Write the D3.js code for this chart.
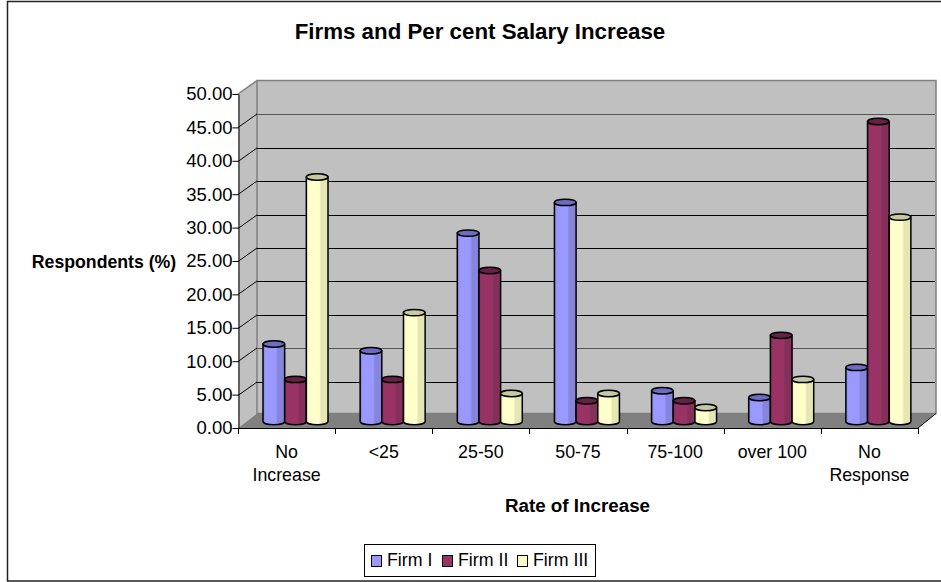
<!DOCTYPE html>
<html><head><meta charset="utf-8">
<script src="https://cdn.jsdelivr.net/npm/d3@7"></script>
<style>html,body{margin:0;padding:0;background:#fff}svg{display:block}text{font-family:"Liberation Sans",Arial,sans-serif;fill:#000}</style>
</head><body><svg id="c" width="941" height="582"></svg>
<script>
const categories=[["No","Increase"],["<25"],["25-50"],["50-75"],["75-100"],["over 100"],["No","Response"]];
const seriesNames=["Firm I","Firm II","Firm III"];
const firm1=[11.6,10.6,28.2,32.8,4.6,3.6,8.1];
const firm2=[6.3,6.3,22.6,3.1,3.1,12.9,44.9];
const firm3=[36.6,16.3,4.2,4.2,2.1,6.3,30.6];
const tickValues=d3.range(0,51,5);
const fills=[["#9999ff","#8585dc","#6c6cc0"],["#993366","#84305a","#662244"],["#ffffcc","#e6e6b4","#c9c9a0"]];

const svg=d3.select("#c");
const pL=238,pR=918,pT=94,pB=428,dx=19,dy=-13.5,floorDy=-14.5;
const x=d3.scaleBand().domain(d3.range(7)).range([pL,pR]);
const y=d3.scaleLinear().domain([0,50]).range([pB,pT]);
const inner=d3.scaleBand().domain([0,1,2]).range([25,90]);
const defs=svg.append("defs");
fills.forEach((f,i)=>{
  const g=defs.append("linearGradient").attr("id","g"+i);
  [[0,f[1]],[.12,f[0]],[.6,f[0]],[.68,f[1]],[1,f[1]]].forEach(s=>g.append("stop").attr("offset",s[0]).attr("stop-color",s[1]));
});
// frame
svg.append("path").attr("d","M941,1.5H7.5V581H941").attr("fill","none").attr("stroke","#222").attr("stroke-width",1.5);
// walls
const poly=p=>p.map(q=>q.join(",")).join(" ");
svg.append("polygon").attr("points",poly([[pL,pB],[pL+dx,pB+floorDy],[pL+dx,pT+dy],[pL,pT]])).attr("fill","#c0c0c0");
svg.append("polygon").attr("points",poly([[pL+dx,pB+floorDy],[pR+dx-1,pB+floorDy],[pR+dx-1,pT+dy],[pL+dx,pT+dy]])).attr("fill","#c0c0c0").attr("stroke","#808080").attr("stroke-width",1.5);
svg.append("polygon").attr("points",poly([[pL,pB],[pR,pB],[pR+dx-1,pB+floorDy],[pL+dx,pB+floorDy]])).attr("fill","#808080");
svg.append("line").attr("x1",pL).attr("y1",pT).attr("x2",pL+dx).attr("y2",pT+dy).attr("stroke","#808080").attr("stroke-width",1.5);
svg.append("line").attr("x1",pR).attr("y1",pB).attr("x2",pR+dx-1).attr("y2",pB+floorDy).attr("stroke","#000");
// grid
tickValues.slice(1,-1).forEach(t=>{
  const v=Math.round(y(t))+.5;
  svg.append("line").attr("x1",pL).attr("y1",v).attr("x2",pL+dx).attr("y2",v+dy).attr("stroke","#000");
  svg.append("line").attr("x1",pL+dx).attr("y1",Math.round(v+dy)+.5).attr("x2",pR+dx-2).attr("y2",Math.round(v+dy)+.5).attr("stroke",t==45||t==10?"#555":"#000").attr("stroke-width",1);
});
// axes
const yAxis=d3.axisLeft(y).tickValues(tickValues).tickSize(6).tickSizeOuter(0).tickFormat(d3.format(".2f"));
const ga=svg.append("g").attr("transform",`translate(${pL+.5},0)`).call(yAxis);
ga.selectAll("text").attr("font-size",18.5).attr("x",-6).style("font-family",'"Liberation Sans"');
ga.selectAll("line,path").attr("stroke","#000");
svg.append("line").attr("x1",pL).attr("x2",pR).attr("y1",pB+.5).attr("y2",pB+.5).attr("stroke","#000");
d3.range(8).forEach(i=>{const px=Math.round(pL+i*x.step())+.5;svg.append("line").attr("x1",px).attr("x2",px).attr("y1",pB).attr("y2",pB+6).attr("stroke","#000");});
categories.forEach((c,i)=>{
  const t=svg.append("text").attr("text-anchor","middle").attr("font-size",17.8).attr("y",458);
  c.forEach((s,j)=>t.append("tspan").attr("x",x(i)+x.step()/2).attr("dy",j?23:0).text(s));
});
// bars
const base=6.5,ry=3.2;
[firm1,firm2,firm3].forEach((vals,s)=>{
  vals.forEach((v,i)=>{
    const x0=x(i)+inner(s),w=inner.bandwidth(),yt=y(v)-base,yb=y(0)-base,rx=w/2;
    const g=svg.append("g").attr("stroke","#000").attr("stroke-width",1.5);
    g.append("path").attr("fill",`url(#g${s})`)
      .attr("d",`M${x0},${yt}L${x0},${yb}A${rx},${ry} 0 0 0 ${x0+w},${yb}L${x0+w},${yt}Z`);
    g.append("ellipse").attr("cx",x0+rx).attr("cy",yt).attr("rx",rx).attr("ry",ry).attr("fill",fills[s][2]);
  });
});
// titles
svg.append("text").attr("x",480).attr("y",39).attr("text-anchor","middle").attr("font-size",22.3).attr("font-weight","bold").text("Firms and Per cent Salary Increase");
svg.append("text").attr("x",104).attr("y",268).attr("text-anchor","middle").attr("font-size",17.7).attr("font-weight","bold").text("Respondents (%)");
svg.append("text").attr("x",577.5).attr("y",512).attr("text-anchor","middle").attr("font-size",18.8).attr("font-weight","bold").text("Rate of Increase");
// legend
svg.append("rect").attr("x",364.5).attr("y",544.5).attr("width",231).attr("height",32).attr("fill","#fff").attr("stroke","#000");
const legendX=d3.scaleOrdinal().domain([0,1,2]).range([371,442,517]);
seriesNames.forEach((n,i)=>{
  svg.append("rect").attr("x",legendX(i)+.5).attr("y",555.5).attr("width",10).attr("height",11).attr("fill",fills[i][0]).attr("stroke","#000");
  svg.append("text").attr("x",legendX(i)+16).attr("y",566).attr("font-size",17.8).text(n);
});
</script></body></html>
